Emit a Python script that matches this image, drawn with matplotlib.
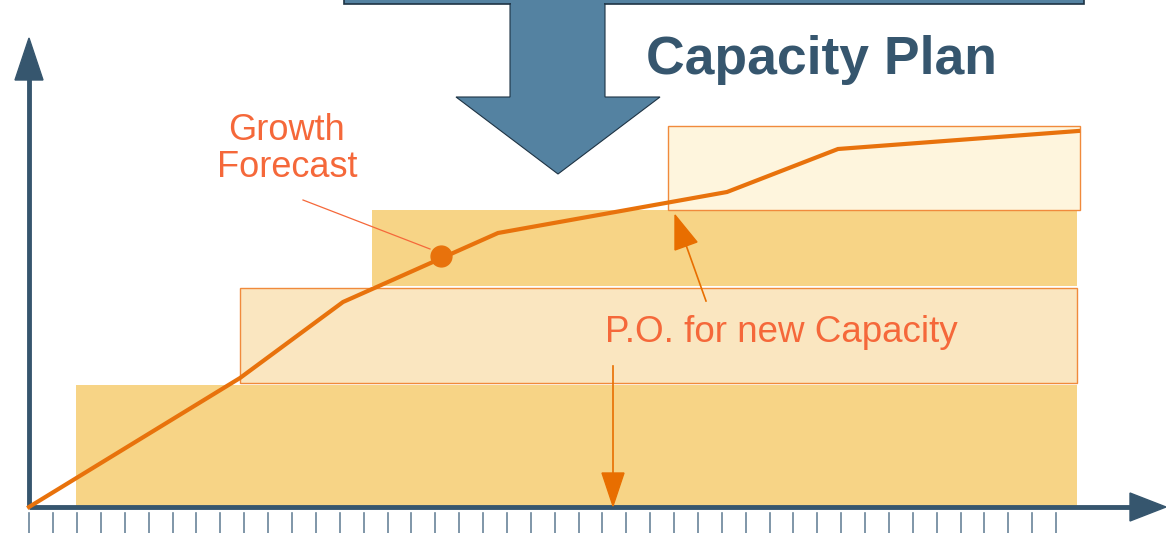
import matplotlib
matplotlib.use("Agg")
import matplotlib.pyplot as plt
from matplotlib.patches import Rectangle, Polygon

# ---- data (diagram coordinates: x = time, y = capacity, origin bottom-left) ----
H = 533
growth_x = [29, 240, 343, 498, 727, 838, 1078]
growth_y = [0, 129, 205, 274, 315, 358, 376]
forecast_point = (441, 251)

# capacity blocks
block_x0 = [76, 240, 372, 668]
block_x1 = [1077, 1077, 1077, 1080]
block_y0 = [0, 124, 221, 297]
block_y1 = [122, 219, 297, 381]
block_style = ["solid", "light", "solid", "pale"]

tick_positions = [29.3 + 23.88 * i for i in range(44)]

title_text = "Capacity Plan"
growth_label = "Growth\nForecast"
po_label = "P.O. for new Capacity"

# ---- drawing ----
fig = plt.figure(figsize=(11.66, 5.33), dpi=100)
ax = fig.add_axes([0, 0, 1, 1])
ax.set_xlim(0, 1166)
ax.set_ylim(-26, H - 26)
ax.axis("off")

Y0 = 507

def py(pix_y):
    return Y0 - pix_y

colors = {"solid": ("#F7D486", None), "light": ("#FAE6C0", "#F08A3C"), "pale": ("#FEF5DD", "#F08A3C")}
for x0, x1, y0, y1, st in zip(block_x0, block_x1, block_y0, block_y1, block_style):
    fc, ec = colors[st]
    ax.add_patch(Rectangle((x0, y0), x1 - x0, y1 - y0, facecolor=fc,
                           edgecolor=ec if ec else "none", linewidth=1.0, zorder=1))

# axes arrows
axis_col = "#36566E"
ax.plot([29, 1132], [0, 0], color=axis_col, lw=3.5, zorder=3, solid_capstyle="butt")
ax.add_patch(Polygon([[1130, 14], [1130, -14], [1166, 0]], closed=True, color=axis_col, zorder=3))
ax.plot([29, 29], [0, py(78)], color=axis_col, lw=3.5, zorder=3, solid_capstyle="butt")
ax.add_patch(Polygon([[15, py(80)], [43, py(80)], [29, py(38)]], closed=True, color=axis_col, zorder=3))

for tx in tick_positions:
    ax.plot([tx, tx], [py(513), py(533)], color="#6A8499", lw=1.2, zorder=2)

# growth line
line_col = "#E8720C"
ax.plot(growth_x, growth_y, color=line_col, lw=3, zorder=4, solid_joinstyle="miter")
ax.plot([forecast_point[0]], [forecast_point[1]], "o", color=line_col, ms=15, zorder=5)

# top blue box and arrow
blue = "#5482A1"
ax.add_patch(Rectangle((344, py(4)), 740, 40, facecolor=blue, edgecolor="#1E3344", lw=1.2, zorder=6))
ax.add_patch(Polygon([[510, py(4)], [605, py(4)], [605, py(97)], [660, py(97)], [558, py(174)],
                      [456, py(97)], [510, py(97)]], closed=True, facecolor=blue,
                     edgecolor="#1E3344", lw=0.8, zorder=7))
ax.add_patch(Rectangle((511, py(5)), 93, 3, facecolor=blue, edgecolor="none", zorder=8))

ax.text(822, py(60), title_text, ha="center", va="center", fontsize=38.5, fontweight="bold",
        color="#36566E", family="Liberation Sans", zorder=9)

text_orange = "#F5683A"
ax.text(287, py(149), growth_label, ha="center", va="center", fontsize=26, color=text_orange,
        family="Liberation Sans", linespacing=1.05, zorder=9)
ax.plot([303, 430], [py(200), py(249)], color=text_orange, lw=0.9, zorder=9)

ax.text(781, py(333), po_label, ha="center", va="center", fontsize=26.5, color=text_orange,
        family="Liberation Sans", zorder=9)

arrow_col = "#E86E00"
ax.plot([706, 686], [py(301), py(245)], color=arrow_col, lw=1.2, zorder=9)
ax.add_patch(Polygon([[675, py(215)], [675, py(250)], [697, py(242)]], closed=True,
                     color=arrow_col, zorder=9))
ax.plot([613, 613], [py(366), py(475)], color=arrow_col, lw=1.2, zorder=9)
ax.add_patch(Polygon([[602, py(473)], [624, py(473)], [613, py(506)]], closed=True,
                     color=arrow_col, zorder=9))

fig.savefig("out.png", dpi=100)
